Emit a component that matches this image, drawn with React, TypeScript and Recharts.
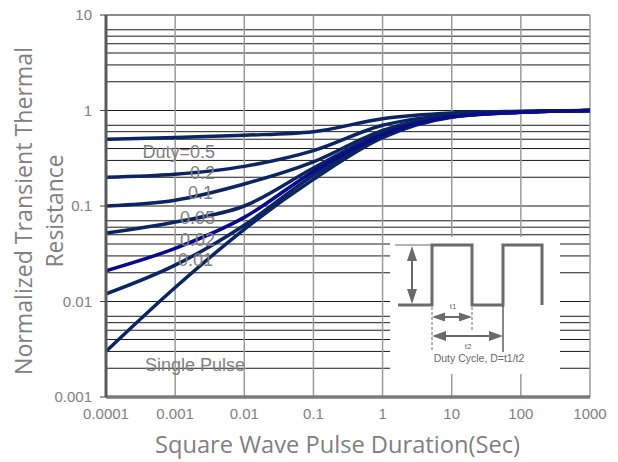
import React from "react";
import {
  CartesianGrid,
  Label,
  Line,
  LineChart,
  XAxis,
  YAxis,
} from "recharts";

// pulse duration (s) at which the curves were read
const pulseDuration = [0.0001, 0.001, 0.01, 0.1, 1, 10, 100, 1000];

const duty05 = [0.5, 0.52, 0.55, 0.6, 0.82, 0.94, 0.98, 1.0];
const duty02 = [0.2, 0.215, 0.26, 0.38, 0.7, 0.9, 0.97, 1.0];
const duty01 = [0.1, 0.115, 0.17, 0.29, 0.62, 0.88, 0.97, 1.0];
const duty005 = [0.052, 0.068, 0.1, 0.25, 0.58, 0.87, 0.96, 1.0];
const duty002 = [0.021, 0.036, 0.076, 0.23, 0.56, 0.86, 0.96, 1.0];
const duty001 = [0.012, 0.024, 0.063, 0.21, 0.54, 0.86, 0.96, 1.0];
const singlePulse = [0.003, 0.014, 0.057, 0.19, 0.52, 0.85, 0.96, 1.0];

const xTicks = [0.0001, 0.001, 0.01, 0.1, 1, 10, 100, 1000];
const xTickLabels = ["0.0001", "0.001", "0.01", "0.1", "1", "10", "100", "1000"];
const yTicks = [0.001, 0.01, 0.1, 1, 10];
const yTickLabels = ["0.001", "0.01", "0.1", "1", "10"];
const yDecades = [0.001, 0.01, 0.1, 1];
const yMultipliers = [1, 2, 3, 4, 5, 6, 7, 8, 9];

const curveLabels = ["Duty=0.5", "0.2", "0.1", "0.05", "0.02", "0.01", "Single Pulse"];

const yGridValues = yDecades
  .flatMap((d) => yMultipliers.map((m) => +(d * m).toPrecision(3)))
  .concat([10]);

const chartData = pulseDuration.map((t, i) => ({
  t,
  d05: duty05[i],
  d02: duty02[i],
  d01: duty01[i],
  d005: duty005[i],
  d002: duty002[i],
  d001: duty001[i],
  single: singlePulse[i],
}));

const NAVY = "#0b2562";
const BLUE = "#0a0a8c";
const GRAY_TEXT = "#808080";
const TICK_FONT = "'Liberation Sans', Arial, sans-serif";
const TITLE_FONT = "'Open Sans', 'Noto Sans', sans-serif";

const XTitle = () => (
  <text
    x={155}
    y={453}
    fill={GRAY_TEXT}
    fontFamily={TITLE_FONT}
    fontSize={24}
    textLength={365}
    lengthAdjust="spacingAndGlyphs"
  >
    Square Wave Pulse Duration(Sec)
  </text>
);

const YTitle = () => (
  <g fill={GRAY_TEXT} fontFamily={TITLE_FONT} fontSize={24}>
    <text
      transform="translate(32, 211) rotate(-90)"
      textAnchor="middle"
      textLength={328}
      lengthAdjust="spacingAndGlyphs"
    >
      Normalized Transient Thermal
    </text>
    <text
      transform="translate(63, 211) rotate(-90)"
      textAnchor="middle"
      textLength={113}
      lengthAdjust="spacingAndGlyphs"
    >
      Resistance
    </text>
  </g>
);

// duty-cycle sketch in the lower right corner
const DutyInset = () => {
  const g = "#6a6a6a";
  return (
    <svg
      width={618}
      height={462}
      style={{ position: "absolute", left: 0, top: 0, pointerEvents: "none" }}
    >
      <rect x={390} y={237} width={170} height={137} fill="#fff" />
      <line x1={395} y1={245} x2={432} y2={245} stroke={g} strokeWidth={1} />
      <polyline
        points="398,305 432,305 432,245 472,245 472,305 503,305 503,245 542,245 542,305"
        fill="none"
        stroke={g}
        strokeWidth={3}
      />
      {/* vertical amplitude arrow */}
      <line x1={412} y1={258} x2={412} y2={292} stroke={g} strokeWidth={2} />
      <polygon points="412,246 407,261 417,261" fill={g} />
      <polygon points="412,304 407,289 417,289" fill={g} />
      <line x1={432} y1={307} x2={432} y2={352} stroke={g} strokeWidth={1} strokeDasharray="3 2" />
      <line x1={472} y1={307} x2={472} y2={332} stroke={g} strokeWidth={1} strokeDasharray="3 2" />
      <line x1={503} y1={306} x2={503} y2={352} stroke="#111" strokeWidth={1} />
      {/* t1 arrow */}
      <line x1={440} y1={317} x2={464} y2={317} stroke={g} strokeWidth={2} />
      <polygon points="432,317 445,312.5 445,321.5" fill={g} />
      <polygon points="472,317 459,312.5 459,321.5" fill={g} />
      {/* t2 arrow */}
      <line x1={440} y1={336} x2={494} y2={336} stroke={g} strokeWidth={2} />
      <polygon points="432,336 446,331 446,341" fill={g} />
      <polygon points="503,336 489,331 489,341" fill={g} />
      <g fill={g} fontFamily={TICK_FONT}>
        <text x={453} y={309} fontSize={8} textAnchor="middle">t1</text>
        <text x={468} y={349} fontSize={8} textAnchor="middle">t2</text>
        <text x={479} y={362} fontSize={10.5} textAnchor="middle">Duty Cycle, D=t1/t2</text>
      </g>
      <g fill={GRAY_TEXT} fontFamily={TICK_FONT} fontSize={18}>
        <text x={215} y={158} textAnchor="end">{curveLabels[0]}</text>
        <text x={215} y={179} textAnchor="end">{curveLabels[1]}</text>
        <text x={213} y={199} textAnchor="end">{curveLabels[2]}</text>
        <text x={215} y={224} textAnchor="end">{curveLabels[3]}</text>
        <text x={215} y={246} textAnchor="end">{curveLabels[4]}</text>
        <text x={213} y={266} textAnchor="end">{curveLabels[5]}</text>
        <text x={145} y={371}>{curveLabels[6]}</text>
      </g>
    </svg>
  );
};

const seriesKeys: { key: string; color: string }[] = [
  { key: "d05", color: NAVY },
  { key: "d02", color: NAVY },
  { key: "d01", color: NAVY },
  { key: "d005", color: NAVY },
  { key: "d001", color: NAVY },
  { key: "single", color: NAVY },
  { key: "d002", color: BLUE },
];

export default function App() {
  return (
    <div style={{ position: "relative", width: 618, height: 462, background: "#fff" }}>
      <style>{"body{margin:0}"}</style>
      <LineChart
        width={618}
        height={462}
        data={chartData}
        margin={{ top: 15, right: 28, bottom: 0, left: 0 }}
      >
        <CartesianGrid vertical={false} horizontalValues={yGridValues} stroke="#1a1a1a" strokeWidth={1} />
        <CartesianGrid horizontal={false} verticalValues={xTicks} stroke="#9a9a9a" strokeWidth={1.5} />
        <XAxis
          dataKey="t"
          type="number"
          scale="log"
          domain={[0.0001, 1000]}
          ticks={xTicks}
          allowDataOverflow
          height={65}
          tickLine={false}
          tickSize={0}
          tickMargin={11}
          axisLine={{ stroke: "#7a7a7a", strokeWidth: 3.5 }}
          tick={{ fill: GRAY_TEXT, fontSize: 15, fontFamily: TICK_FONT }}
          tickFormatter={(v: number) => xTickLabels[xTicks.indexOf(v)] ?? ""}
        >
          <Label content={<XTitle />} />
        </XAxis>
        <XAxis
          xAxisId="top"
          orientation="top"
          type="number"
          scale="log"
          domain={[0.0001, 1000]}
          height={0}
          tick={false}
          tickLine={false}
          axisLine={{ stroke: "#a0a0a0", strokeWidth: 2 }}
        />
        <YAxis
          type="number"
          scale="log"
          domain={[0.001, 10]}
          ticks={yTicks}
          allowDataOverflow
          width={106}
          tickSize={6}
          tickMargin={8}
          tickLine={{ stroke: "#404040" }}
          axisLine={{ stroke: "#5a5a5a", strokeWidth: 3 }}
          tick={{ fill: GRAY_TEXT, fontSize: 15, fontFamily: TICK_FONT }}
          tickFormatter={(v: number) => yTickLabels[yTicks.indexOf(v)] ?? ""}
        >
          <Label content={<YTitle />} />
        </YAxis>
        <YAxis
          yAxisId="right"
          orientation="right"
          type="number"
          scale="log"
          domain={[0.001, 10]}
          width={0}
          tick={false}
          tickLine={false}
          axisLine={{ stroke: "#858585", strokeWidth: 4.5 }}
        />
        {seriesKeys.map((s) => (
          <Line
            key={s.key}
            dataKey={s.key}
            type="monotone"
            stroke={s.color}
            strokeWidth={3.5}
            dot={false}
            isAnimationActive={false}
          />
        ))}
      </LineChart>
      <DutyInset />
    </div>
  );
}
